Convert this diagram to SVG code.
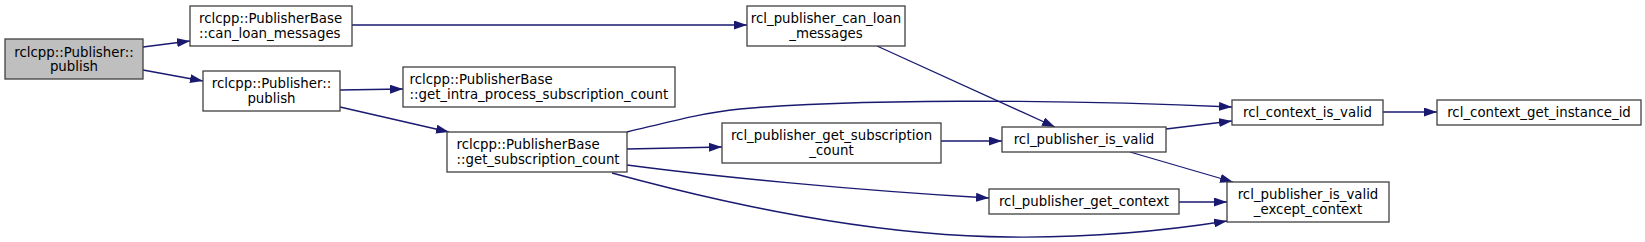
<svg xmlns="http://www.w3.org/2000/svg" width="1645" height="242" viewBox="0 0 1645 242">
<defs>
<style>
.n rect{fill:#ffffff;stroke:#404040;stroke-width:1.3}
.n.g rect{fill:#bfbfbf}
.n text{font-family:"DejaVu Sans","Liberation Sans",sans-serif;font-size:13.33px;fill:#000}
.c{text-anchor:middle}
.e path{fill:none;stroke:#191970;stroke-width:1.3;marker-end:url(#ah)}
</style>
<marker id="ah" markerUnits="userSpaceOnUse" markerWidth="13" markerHeight="9" viewBox="0 0 13 9" refX="13" refY="4.5" orient="auto">
<path d="M0,0 L13,4.5 L0,9 z" fill="#191970"/>
</marker>
</defs>
<rect width="1645" height="242" fill="#ffffff"/>
<g id="edges" class="e">
<path d="M143,47 L190,41"/>
<path d="M143,70 L203,81"/>
<path d="M352,25 L747,25"/>
<path d="M340,90 L403,89"/>
<path d="M340,107 L449,132"/>
<path d="M627,132 C665,123 700,113 740,109 C850,99 1050,99 1232,107"/>
<path d="M627,149 L722,147"/>
<path d="M627,165 C710,176 850,190 989,198"/>
<path d="M612,173 C700,197 860,236 1010,237 C1100,238 1170,230 1227,221"/>
<path d="M877,46 L1055,127"/>
<path d="M941,141 L1002,141"/>
<path d="M1166,129 L1232,121"/>
<path d="M1130,152 L1233,182"/>
<path d="M1179,202 L1227,202"/>
<path d="M1383,112 L1437,112"/>
</g>
<g id="n0" class="n g"><rect x="5" y="39" width="138" height="40"/><text class="c" x="74" y="56.5">rclcpp::Publisher::</text><text class="c" x="74" y="71">publish</text></g>
<g id="n1" class="n"><rect x="190" y="6" width="162" height="40"/><text x="199" y="23">rclcpp::PublisherBase</text><text x="199" y="37.5">::can_loan_messages</text></g>
<g id="n2" class="n"><rect x="203" y="71" width="137" height="40"/><text class="c" x="271.5" y="88">rclcpp::Publisher::</text><text class="c" x="271.5" y="102.5">publish</text></g>
<g id="n3" class="n"><rect x="403" y="67" width="272" height="40"/><text x="409.5" y="84">rclcpp::PublisherBase</text><text x="409.5" y="98.5">::get_intra_process_subscription_count</text></g>
<g id="n4" class="n"><rect x="447" y="132" width="180" height="40"/><text x="456.5" y="149">rclcpp::PublisherBase</text><text x="456.5" y="163.5">::get_subscription_count</text></g>
<g id="n5" class="n"><rect x="747" y="6" width="158" height="40"/><text class="c" x="826" y="23">rcl_publisher_can_loan</text><text class="c" x="826" y="37.5">_messages</text></g>
<g id="n6" class="n"><rect x="722" y="123" width="219" height="40"/><text class="c" x="831.5" y="140">rcl_publisher_get_subscription</text><text class="c" x="831.5" y="154.5">_count</text></g>
<g id="n7" class="n"><rect x="1002" y="127" width="164" height="25"/><text class="c" x="1084" y="143.5">rcl_publisher_is_valid</text></g>
<g id="n8" class="n"><rect x="989" y="189" width="190" height="25"/><text class="c" x="1084" y="205.5">rcl_publisher_get_context</text></g>
<g id="n9" class="n"><rect x="1232" y="100" width="151" height="25"/><text class="c" x="1307.5" y="116.5">rcl_context_is_valid</text></g>
<g id="n10" class="n"><rect x="1437" y="100" width="204" height="25"/><text class="c" x="1539" y="116.5">rcl_context_get_instance_id</text></g>
<g id="n11" class="n"><rect x="1227" y="182" width="162" height="40"/><text class="c" x="1308" y="199">rcl_publisher_is_valid</text><text class="c" x="1308" y="213.5">_except_context</text></g>
</svg>
